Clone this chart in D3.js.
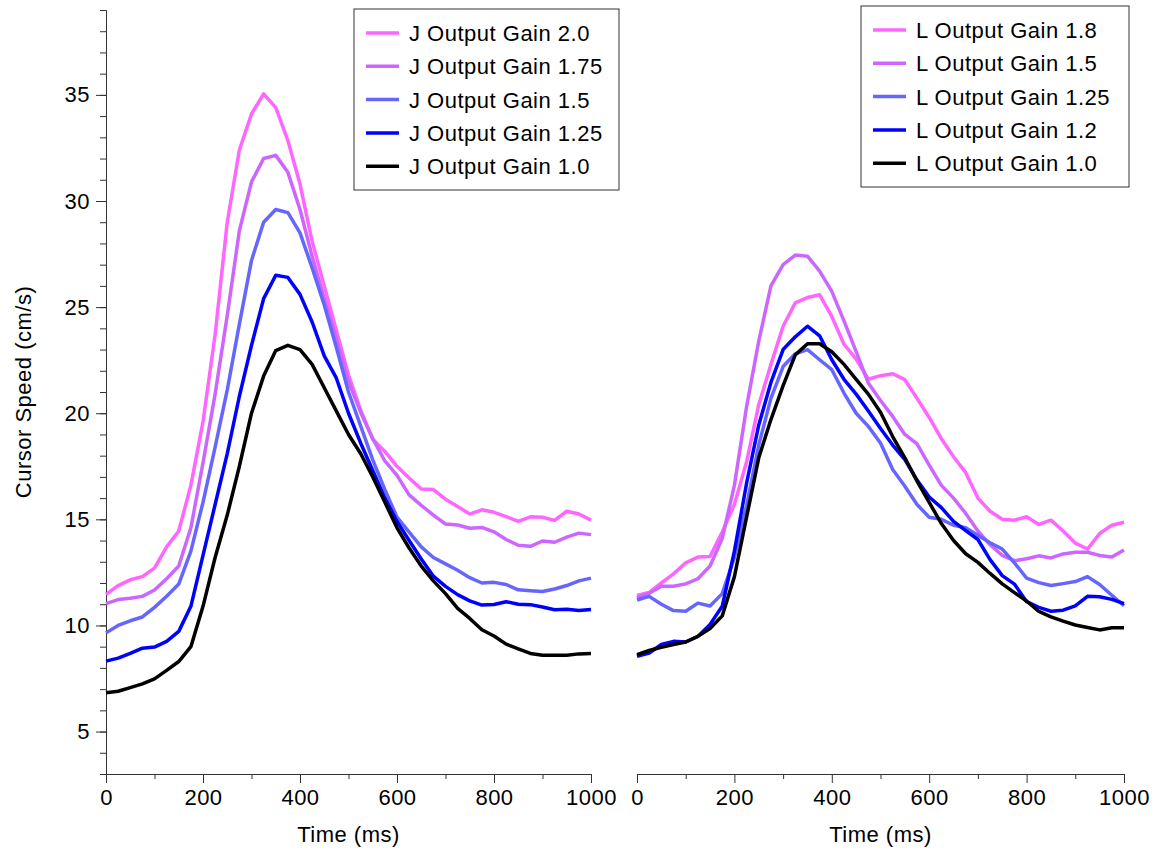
<!DOCTYPE html>
<html>
<head>
<meta charset="utf-8">
<script src="https://cdn.jsdelivr.net/npm/d3@7"></script>
<style>
body { margin: 0; background: #fff; }
text { font-family: "Liberation Sans", Arial, Helvetica, sans-serif; }
</style>
</head>
<body>
<svg width="1157" height="852"></svg>
<script>
// time samples (ms)
const time = [0,25,50,75,100,125,150,175,200,225,250,275,300,325,350,375,400,425,450,475,500,
	525,550,575,600,625,650,675,700,725,750,775,800,825,850,875,900,925,950,975,1000]

// left panel: J output gain
const jLabels = ["J Output Gain 2.0", "J Output Gain 1.75", "J Output Gain 1.5", "J Output Gain 1.25", "J Output Gain 1.0"]
const j20  = [11.46,11.88,12.15,12.3,12.7,13.7,14.45,16.6,19.6,23.7,29.0,32.4,34.1,35.05,34.4,32.85,30.8,28.1,26.0,23.9,21.8,
	20.15,18.77,18.2,17.5,16.95,16.43,16.4,15.95,15.6,15.25,15.45,15.33,15.13,14.9,15.12,15.1,14.95,15.38,15.25,14.96]
const j175 = [11.03,11.22,11.28,11.37,11.67,12.2,12.8,14.6,17.66,20.9,24.6,28.6,30.9,32.0,32.15,31.35,29.6,27.4,25.4,23.5,21.5,
	20.05,18.8,17.75,17.07,16.15,15.66,15.2,14.78,14.73,14.58,14.62,14.41,14.05,13.78,13.73,13.98,13.92,14.16,14.35,14.28]
const j15  = [9.65,10.0,10.22,10.4,10.85,11.38,11.95,13.5,15.8,18.4,21.1,24.2,27.2,29.0,29.6,29.45,28.5,26.85,25.1,23.1,21.0,
	19.4,17.8,16.4,15.1,14.4,13.7,13.2,12.9,12.6,12.25,12.0,12.03,11.93,11.68,11.64,11.6,11.72,11.88,12.1,12.23]
const j125 = [8.32,8.46,8.68,8.93,8.98,9.25,9.72,10.9,13.3,15.7,18.1,20.8,23.2,25.4,26.5,26.4,25.6,24.3,22.7,21.65,20.0,
	18.6,17.3,16.0,14.9,14.0,13.13,12.32,11.84,11.45,11.16,10.96,10.99,11.12,11.0,10.98,10.87,10.74,10.76,10.7,10.75]
const j10  = [6.83,6.9,7.07,7.25,7.48,7.88,8.3,9.0,10.9,13.2,15.2,17.5,20.0,21.75,22.95,23.2,23.0,22.3,21.2,20.1,19.0,
	18.1,17.0,15.8,14.6,13.65,12.8,12.1,11.5,10.8,10.33,9.8,9.5,9.12,8.9,8.68,8.6,8.59,8.6,8.66,8.68]

// right panel: L output gain
const lLabels = ["L Output Gain 1.8", "L Output Gain 1.5", "L Output Gain 1.25", "L Output Gain 1.2", "L Output Gain 1.0"]
const l18  = [11.41,11.55,12.0,12.43,12.95,13.22,13.25,14.4,15.7,17.7,20.4,22.3,24.1,25.2,25.45,25.58,24.56,23.25,22.55,21.6,21.77,
	21.86,21.58,20.7,19.8,18.8,17.95,17.2,16.0,15.38,15.0,14.96,15.12,14.76,14.96,14.45,13.88,13.6,14.33,14.72,14.86]
const l15  = [11.3,11.52,11.85,11.85,11.96,12.2,12.8,14.1,16.6,20.3,23.4,26.0,27.0,27.45,27.4,26.7,25.74,24.35,22.9,21.42,20.6,
	19.85,19.0,18.55,17.55,16.6,16.0,15.28,14.45,13.8,13.3,13.05,13.14,13.28,13.18,13.37,13.45,13.45,13.3,13.23,13.56]
const l125 = [11.2,11.37,11.0,10.7,10.67,11.05,10.92,11.5,13.2,15.65,18.5,20.7,22.2,22.8,23.0,22.52,22.05,20.95,20.0,19.38,18.6,
	17.35,16.56,15.7,15.1,15.0,14.72,14.6,14.25,13.9,13.6,12.95,12.23,12.02,11.88,11.97,12.07,12.3,11.93,11.42,10.93]
const l12  = [8.55,8.7,9.1,9.25,9.22,9.48,10.05,10.9,13.5,16.7,19.45,21.45,23.0,23.6,24.1,23.65,22.52,21.6,20.9,20.1,19.28,
	18.5,17.81,16.85,16.05,15.55,14.9,14.47,14.05,13.1,12.35,11.95,11.12,10.85,10.67,10.72,10.92,11.37,11.35,11.23,11.03]
const l10  = [8.62,8.82,8.97,9.1,9.22,9.49,9.86,10.45,12.3,15.1,17.9,19.7,21.3,22.75,23.27,23.27,22.9,22.3,21.6,20.9,20.05,
	18.9,17.9,16.8,15.8,14.8,14.0,13.38,12.97,12.45,11.96,11.55,11.15,10.66,10.4,10.2,10.02,9.9,9.79,9.89,9.89]

const colores = ["#FF66FF", "#CC66FF", "#6666FF", "#0000FF", "#000000"]
const xTicks = [0,200,400,600,800,1000]
const xMinor = [100,300,500,700,900]
const yTicks = [5,10,15,20,25,30,35]
const yMinor = d3.range(3, 40)

const svg = d3.select("svg")
const fontSize = "22px"
const yScale = d3.scaleLinear().domain([3, 39]).range([774, 10])
const xLeft = d3.scaleLinear().domain([0, 1000]).range([106, 591])
const xRight = d3.scaleLinear().domain([0, 1000]).range([637, 1124])

function styleAxis(g){
	g.selectAll("path, line").attr("stroke", "#333").attr("stroke-width", 1)
	g.selectAll("text").attr("font-size", fontSize).attr("font-family", null)
		.attr("fill", "#000").style("letter-spacing", "0.5px")
}

function drawPanel(xScale, series, labels, box){
	// minor then major x ticks
	svg.append("g").attr("transform", "translate(0,774)")
		.call(d3.axisBottom(xScale).tickValues(xMinor).tickSize(5).tickFormat("").tickSizeOuter(0))
		.call(styleAxis)
	svg.append("g").attr("transform", "translate(0,774)")
		.call(d3.axisBottom(xScale).tickValues(xTicks).tickSize(9).tickPadding(6).tickFormat(d3.format("d")).tickSizeOuter(0))
		.call(styleAxis)
	svg.append("text")
		.attr("x", (xScale.range()[0] + xScale.range()[1]) / 2).attr("y", 842)
		.attr("text-anchor", "middle").attr("font-size", fontSize).style("letter-spacing", "0.5px")
		.text("Time (ms)")

	const line = d3.line().x((d, i) => xScale(time[i])).y(d => yScale(d))
	svg.append("g").selectAll("path")
		.data(series)
		.enter().append("path")
		.attr("d", d => line(d))
		.attr("fill", "none")
		.attr("stroke", (d, i) => colores[i])
		.attr("stroke-width", 3.5)
		.attr("stroke-linejoin", "round")

	const leg = svg.append("g")
	leg.append("rect")
		.attr("x", box.x).attr("y", box.y).attr("width", box.w).attr("height", box.h)
		.attr("fill", "#fff").attr("stroke", "#333").attr("stroke-width", 1)
	labels.forEach((lab, i) => {
		const cy = box.y + 24 + i * 33.3
		leg.append("line")
			.attr("x1", box.x + 12).attr("x2", box.x + 45).attr("y1", cy).attr("y2", cy)
			.attr("stroke", colores[i]).attr("stroke-width", 3.5)
		leg.append("text")
			.attr("x", box.x + 55).attr("y", cy).attr("dy", "0.36em")
			.attr("font-size", fontSize).style("letter-spacing", "0.5px")
			.text(lab)
	})
}

// y axis on the left panel only
svg.append("g").attr("transform", "translate(106,0)")
	.call(d3.axisLeft(yScale).tickValues(yMinor).tickSize(6).tickFormat("").tickSizeOuter(0))
	.call(styleAxis)
svg.append("g").attr("transform", "translate(106,0)")
	.call(d3.axisLeft(yScale).tickValues(yTicks).tickSize(10).tickPadding(6).tickSizeOuter(0))
	.call(styleAxis)
svg.append("text")
	.attr("transform", "translate(31,392) rotate(-90)")
	.attr("text-anchor", "middle").attr("font-size", fontSize).style("letter-spacing", "0.5px")
	.text("Cursor Speed (cm/s)")

drawPanel(xLeft, [j20, j175, j15, j125, j10], jLabels, {x: 354, y: 9, w: 265, h: 181})
drawPanel(xRight, [l18, l15, l125, l12, l10], lLabels, {x: 861, y: 6, w: 268, h: 181})
</script>
</body>
</html>
